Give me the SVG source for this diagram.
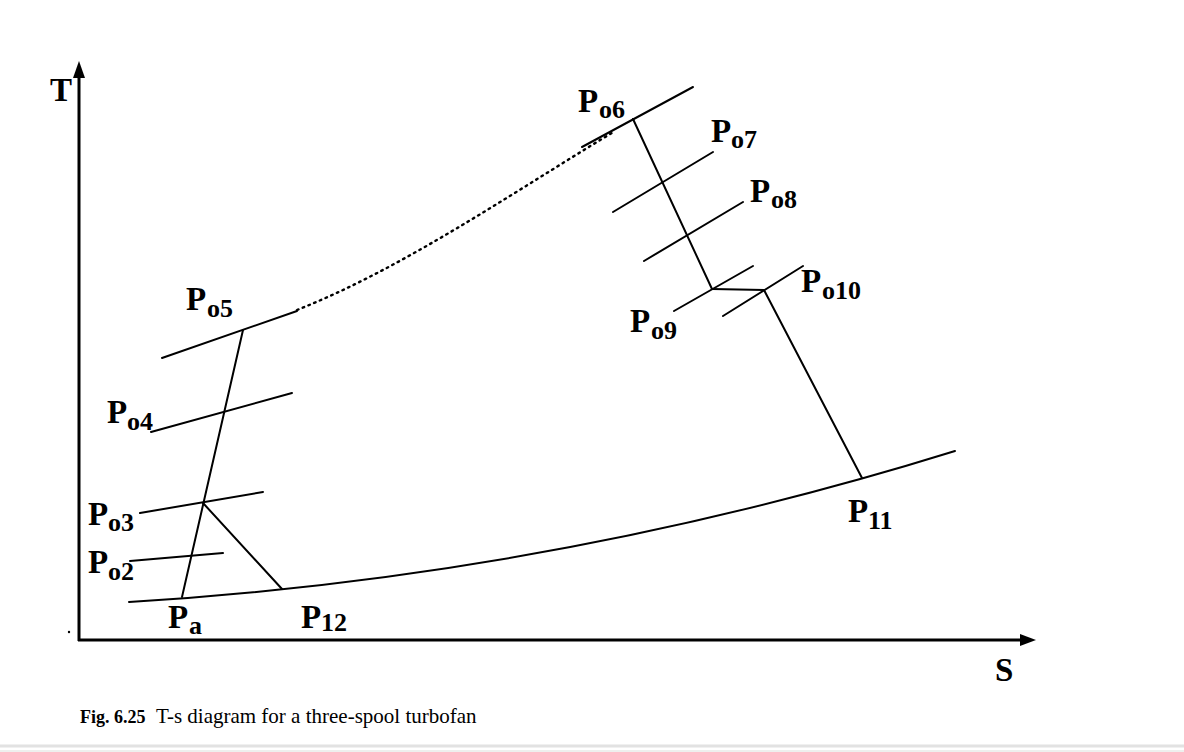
<svg xmlns="http://www.w3.org/2000/svg" width="1184" height="752" viewBox="0 0 1184 752">
  <style>
    .ln { stroke: #000; stroke-width: 2; fill: none; stroke-linecap: round; }
    .ax { stroke: #000; stroke-width: 3; fill: none; }
    .dot { stroke: #000; stroke-width: 2.4; fill: none; stroke-dasharray: 1.6 4.6; stroke-linecap: round; }
    .P { font-family: "Liberation Serif", "Times New Roman", serif; font-weight: bold; font-size: 33px; fill: #000; }
    .sub { font-family: "Liberation Serif", "Times New Roman", serif; font-weight: bold; font-size: 26px; fill: #000; }
    .cap { font-family: "Liberation Serif", "Times New Roman", serif; font-size: 21px; fill: #000; }
    .capb { font-family: "Liberation Serif", "Times New Roman", serif; font-size: 18px; font-weight: bold; fill: #000; }
  </style>
  <rect x="0" y="0" width="1184" height="752" fill="#fff"/>
  <rect x="0" y="744.5" width="1184" height="3" fill="#e2e2e2"/>
  <rect x="0" y="750" width="1184" height="2" fill="#eef0ee"/>

  <g id="axes">
    <line class="ax" x1="79" y1="641" x2="79" y2="74"/>
    <polygon points="79,61 73,78 85,78" fill="#000"/>
    <line class="ax" x1="78" y1="640" x2="1022" y2="640"/>
    <polygon points="1036,640 1020,634 1020,646" fill="#000"/>
    <text class="P" x="50" y="101">T</text>
    <text class="P" x="995" y="681">S</text>
    <circle cx="69" cy="632" r="1.2" fill="#000"/>
  </g>

  <g id="node-Pa">
    <text class="P" x="168" y="628">P</text><text class="sub" x="189" y="634">a</text>
  </g>
  <g id="node-Po2">
    <line class="ln" x1="130" y1="561" x2="223" y2="553"/>
    <text class="P" x="88" y="573">P</text><text class="sub" x="108" y="580">o2</text>
  </g>
  <g id="node-Po3">
    <line class="ln" x1="140" y1="513" x2="263" y2="492"/>
    <text class="P" x="88" y="525">P</text><text class="sub" x="108" y="531">o3</text>
  </g>
  <g id="node-Po4">
    <line class="ln" x1="151" y1="432" x2="292" y2="393"/>
    <text class="P" x="107" y="423">P</text><text class="sub" x="127" y="430">o4</text>
  </g>
  <g id="node-Po5">
    <line class="ln" x1="162" y1="358" x2="297" y2="311"/>
    <text class="P" x="186" y="310">P</text><text class="sub" x="207" y="317">o5</text>
  </g>
  <g id="node-P12">
    <text class="P" x="301" y="628">P</text><text class="sub" x="321" y="631">12</text>
  </g>
  <g id="node-Po6">
    <line class="ln" x1="582" y1="147" x2="693" y2="87"/>
    <text class="P" x="578" y="112">P</text><text class="sub" x="599" y="118">o6</text>
  </g>
  <g id="node-Po7">
    <line class="ln" x1="613" y1="212" x2="713" y2="152"/>
    <text class="P" x="711" y="142">P</text><text class="sub" x="731" y="148">o7</text>
  </g>
  <g id="node-Po8">
    <line class="ln" x1="644" y1="261" x2="743" y2="202"/>
    <text class="P" x="750" y="202">P</text><text class="sub" x="771" y="208">o8</text>
  </g>
  <g id="node-Po9">
    <line class="ln" x1="674" y1="311" x2="753" y2="266"/>
    <text class="P" x="630" y="332">P</text><text class="sub" x="651" y="339">o9</text>
  </g>
  <g id="node-Po10">
    <line class="ln" x1="723" y1="316" x2="803" y2="266"/>
    <text class="P" x="801" y="292">P</text><text class="sub" x="822" y="299">o10</text>
  </g>
  <g id="node-P11">
    <text class="P" x="848" y="522">P</text><text class="sub" x="868" y="529">11</text>
  </g>

  <g id="connectors">
    <path class="ln" d="M129,602 Q553,576 955,451"/>
    <line class="ln" x1="182" y1="597" x2="243" y2="330"/>
    <line class="ln" x1="203" y1="503" x2="282" y2="589"/>
    <path class="dot" d="M297,310 C403,268 509,195 615,131"/>
    <line class="ln" x1="633" y1="119" x2="712" y2="289"/>
    <line class="ln" x1="712" y1="289" x2="764" y2="290"/>
    <line class="ln" x1="764" y1="290" x2="862" y2="478"/>
  </g>

  <g id="caption">
    <text class="capb" x="80" y="723">Fig. 6.25</text>
    <text class="cap" x="156" y="723">T-s diagram for a three-spool turbofan</text>
  </g>
</svg>
